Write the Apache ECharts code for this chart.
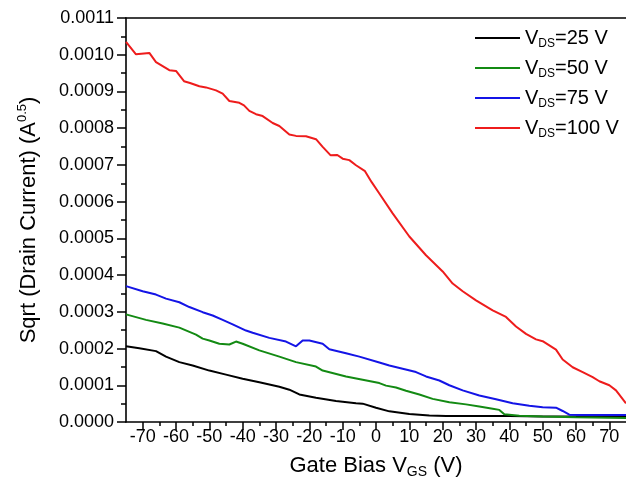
<!DOCTYPE html>
<html>
<head>
<meta charset="utf-8">
<script src="https://cdn.jsdelivr.net/npm/echarts@6/dist/echarts.min.js"></script>
<style>
  html, body { margin: 0; padding: 0; background: #fff; }
  #chart { width: 626px; height: 497px; }
</style>
</head>
<body>
<div id="chart"></div>
<script>
// legend labels (V_DS values)
const vdsLabels = ["25", "50", "75", "100"]
const lineColors = ["#000000", "#138a13", "#1414e6", "#ee1c1c"]

// x tick labels
const xMajorTicks = [-70, -60, -50, -40, -30, -20, -10, 0, 10, 20, 30, 40, 50, 60, 70]
const xMinorTicks = [-65, -55, -45, -35, -25, -15, -5, 5, 15, 25, 35, 45, 55, 65]

// VDS = 25 V
const vgs25 = [-75, -71, -66, -63, -59, -55, -50, -45, -40, -35, -29, -26, -23, -18, -12, -6, -4, 0, 4, 10, 16, 21, 30, 40, 50, 60, 75]
const id25 = [0.000206, 0.000201, 0.000193, 0.000178, 0.000163, 0.000154, 0.000140, 0.000129, 0.000118, 0.000108, 0.000096, 0.000088, 0.000075, 0.000066, 0.000057, 0.000051, 0.000050, 0.000039, 0.000029, 0.000022, 0.000018, 0.000016, 0.000016, 0.000016, 0.000015, 0.000015, 0.000015]

// VDS = 50 V
const vgs50 = [-75, -69, -64, -59, -54, -52, -50, -47, -44, -42, -40, -35, -29, -24, -18, -16, -9, -4, 1, 3, 6, 9, 13, 17, 22, 27, 31, 35, 37, 38.5, 43, 50, 60, 75]
const id50 = [0.000293, 0.000278, 0.000268, 0.000257, 0.000238, 0.000227, 0.000222, 0.000213, 0.000211, 0.000219, 0.000213, 0.000195, 0.000178, 0.000163, 0.000151, 0.000140, 0.000124, 0.000115, 0.000106, 0.000099, 0.000094, 0.000085, 0.000075, 0.000063, 0.000054, 0.000048, 0.000042, 0.000036, 0.000033, 0.000021, 0.000017, 0.000015, 0.000013, 0.000011]

// VDS = 75 V
const vgs75 = [-75, -70, -66, -63, -59, -56, -52, -49, -46, -43, -39, -37, -32, -27, -24, -22, -20, -16, -14, -9, -5, 1, 4, 8, 12, 15, 19, 22, 26, 31, 36, 41, 46, 50, 54, 56, 58, 62, 75]
const id75 = [0.000370, 0.000356, 0.000347, 0.000336, 0.000326, 0.000313, 0.000299, 0.000290, 0.000278, 0.000266, 0.000249, 0.000243, 0.000229, 0.000219, 0.000206, 0.000222, 0.000222, 0.000213, 0.000198, 0.000187, 0.000178, 0.000162, 0.000154, 0.000145, 0.000136, 0.000124, 0.000113, 0.000100, 0.000086, 0.000072, 0.000062, 0.000051, 0.000044, 0.000040, 0.000039, 0.000030, 0.000020, 0.000019, 0.000019]

// VDS = 100 V
const vgs100 = [-75, -72, -68, -66, -62, -60, -57.6, -55.8, -53, -51, -48, -46, -44, -41, -39.6, -38, -36, -34, -31, -29, -26, -24, -21, -18, -16, -13.6, -11.6, -10, -8, -6, -3.3, -1.3, 1, 5, 10, 15, 20, 23, 26, 30, 35, 39, 42, 45, 48, 50, 54, 56, 59, 62, 65, 67, 70, 72, 75]
const id100 = [0.001035, 0.001001, 0.001005, 0.000980, 0.000958, 0.000956, 0.000928, 0.000923, 0.000914, 0.000911, 0.000903, 0.000894, 0.000874, 0.000869, 0.000862, 0.000847, 0.000838, 0.000833, 0.000814, 0.000806, 0.000783, 0.000779, 0.000778, 0.000770, 0.000749, 0.000726, 0.000727, 0.000717, 0.000713, 0.000699, 0.000683, 0.000653, 0.000622, 0.000568, 0.000505, 0.000454, 0.000410, 0.000377, 0.000356, 0.000331, 0.000304, 0.000286, 0.000260, 0.000240, 0.000225, 0.000220, 0.000197, 0.000170, 0.000149, 0.000136, 0.000122, 0.000111, 0.000100, 0.000086, 0.000051]

const xs = [vgs25, vgs50, vgs75, vgs100]
const ys = [id25, id50, id75, id100]

const font = "Liberation Sans, Arial, sans-serif"
const axisLine = { show: true, onZero: false, lineStyle: { color: "#000", width: 1.6 } }

const chart = echarts.init(document.getElementById("chart"))
chart.setOption({
  animation: false,
  backgroundColor: "#fff",
  grid: { left: 126, right: 0, top: 18, bottom: 75 },
  legend: {
    orient: "vertical",
    left: 475,
    top: 26,
    padding: 0,
    itemGap: 6,
    itemWidth: 45,
    itemHeight: 2,
    icon: "rect",
    data: vdsLabels.map((v) => "VDS=" + v + " V"),
    formatter: (name) => "V{sub|DS}" + name.slice(3),
    textStyle: {
      fontFamily: font,
      fontSize: 20,
      color: "#000",
      lineHeight: 24,
      rich: {
        sub: { fontFamily: font, fontSize: 12, lineHeight: 10, verticalAlign: "bottom", color: "#000" },
      },
    },
  },
  xAxis: [
    {
      type: "value",
      min: -75,
      max: 75,
      name: "Gate Bias V{sub|GS} (V)",
      nameLocation: "middle",
      nameGap: 31,
      nameTextStyle: {
        fontFamily: font,
        fontSize: 22,
        color: "#000",
        lineHeight: 26,
        rich: {
          sub: { fontFamily: font, fontSize: 14, lineHeight: 12, verticalAlign: "bottom", color: "#000" },
        },
      },
      axisLine: axisLine,
      axisTick: { show: true, customValues: xMajorTicks, length: 8, lineStyle: { color: "#000", width: 1.5 } },
      axisLabel: { show: true, customValues: xMajorTicks, margin: 6, fontFamily: font, fontSize: 18, color: "#000" },
      splitLine: { show: false },
    },
    {
      type: "value",
      min: -75,
      max: 75,
      position: "bottom",
      axisLine: { show: false, onZero: false },
      axisTick: { show: true, customValues: xMinorTicks, length: 4, lineStyle: { color: "#000", width: 1.5 } },
      axisLabel: { show: false },
      splitLine: { show: false },
    },
    {
      type: "value",
      min: -75,
      max: 75,
      position: "top",
      axisLine: axisLine,
      axisTick: { show: false },
      axisLabel: { show: false },
      splitLine: { show: false },
    },
  ],
  yAxis: {
    type: "value",
    min: 0,
    max: 0.0011,
    interval: 0.0001,
    position: "left",
    name: "Sqrt (Drain Current) (A{sup|0.5})",
    nameLocation: "middle",
    nameRotate: 90,
    nameGap: 84,
    nameTextStyle: {
      fontFamily: font,
      fontSize: 22,
      color: "#000",
      lineHeight: 26,
      rich: {
        sup: { fontFamily: font, fontSize: 13, lineHeight: 12, verticalAlign: "top", color: "#000" },
      },
    },
    axisLine: axisLine,
    axisTick: { show: true, length: 9, lineStyle: { color: "#000", width: 1.5 } },
    minorTick: { show: true, splitNumber: 2, length: 5, lineStyle: { color: "#000", width: 1.5 } },
    axisLabel: {
      margin: 12,
      fontFamily: font,
      fontSize: 18,
      color: "#000",
      formatter: (v) => v.toFixed(4),
    },
    splitLine: { show: false },
  },
  series: vdsLabels.map((v, i) => ({
    name: "VDS=" + v + " V",
    type: "line",
    showSymbol: false,
    symbol: "none",
    color: lineColors[i],
    lineStyle: { color: lineColors[i], width: 2 },
    data: xs[i].map((x, j) => [x, ys[i][j]]),
  })),
})
</script>
</body>
</html>
